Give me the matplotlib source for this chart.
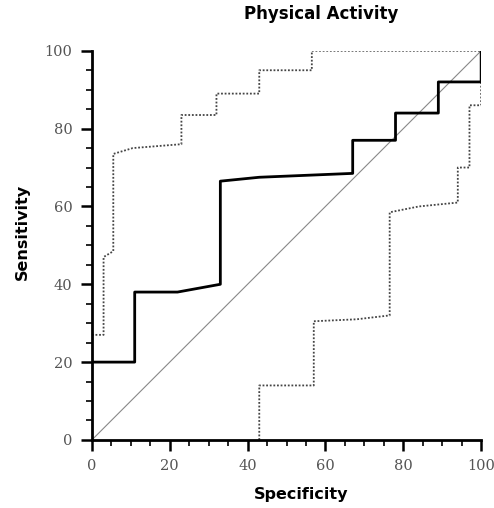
import matplotlib.pyplot as plt
from matplotlib.ticker import MultipleLocator

# ROC curve with confidence bounds (specificity %, sensitivity %)
roc_x = [0, 11, 11, 22, 33, 33, 43, 67, 67, 78, 78, 89, 89, 100, 100]
roc_y = [20, 20, 38, 38, 40, 66.5, 67.5, 68.5, 77, 77, 84, 84, 92, 92, 100]

upper_x = [0, 3, 3, 5.5, 5.5, 10.5, 23, 23, 32, 32, 43, 43, 56.5, 56.5, 100]
upper_y = [27, 27, 47, 48.5, 73.5, 75, 76, 83.5, 83.5, 89, 89, 95, 95, 100, 100]

lower_x = [43, 43, 57, 57, 68, 76.5, 76.5, 84, 94, 94, 97, 97, 100, 100]
lower_y = [0, 14, 14, 30.5, 31, 32, 58.5, 60, 61, 70, 70, 86, 86, 92]

fig = plt.figure(figsize=(4.94, 5.08), dpi=100)
ax = fig.add_axes([0.186, 0.134, 0.788, 0.766])

ax.plot([0, 100], [0, 100], color='#888888', lw=0.8)
ax.plot(upper_x, upper_y, color='#444444', lw=1.3, linestyle=(0, (1, 1)))
ax.plot(lower_x, lower_y, color='#444444', lw=1.3, linestyle=(0, (1, 1)))
ax.plot(roc_x, roc_y, color='black', lw=2)

ax.set_xlim(0, 100)
ax.set_ylim(0, 100)
ax.spines['top'].set_visible(False)
ax.spines['right'].set_visible(False)
ax.spines['left'].set_linewidth(2)
ax.spines['bottom'].set_linewidth(2)

ax.xaxis.set_major_locator(MultipleLocator(20))
ax.yaxis.set_major_locator(MultipleLocator(20))
ax.xaxis.set_minor_locator(MultipleLocator(5))
ax.yaxis.set_minor_locator(MultipleLocator(5))
ax.tick_params(which='major', length=8, width=1.8, direction='out', labelsize=10.5,
               labelcolor='#555555', pad=6)
ax.tick_params(which='minor', length=4, width=1.2, direction='out')
for lbl in ax.get_xticklabels() + ax.get_yticklabels():
    lbl.set_family('DejaVu Serif')

fig.text(0.65, 0.972, 'Physical Activity', ha='center', va='center',
         fontsize=12, fontweight='bold')
fig.text(0.61, 0.026, 'Specificity', ha='center', va='center',
         fontsize=11.5, fontweight='bold')
fig.text(0.045, 0.543, 'Sensitivity', ha='center', va='center', rotation=90,
         fontsize=11.5, fontweight='bold')

fig.savefig('out.png', dpi=100)
